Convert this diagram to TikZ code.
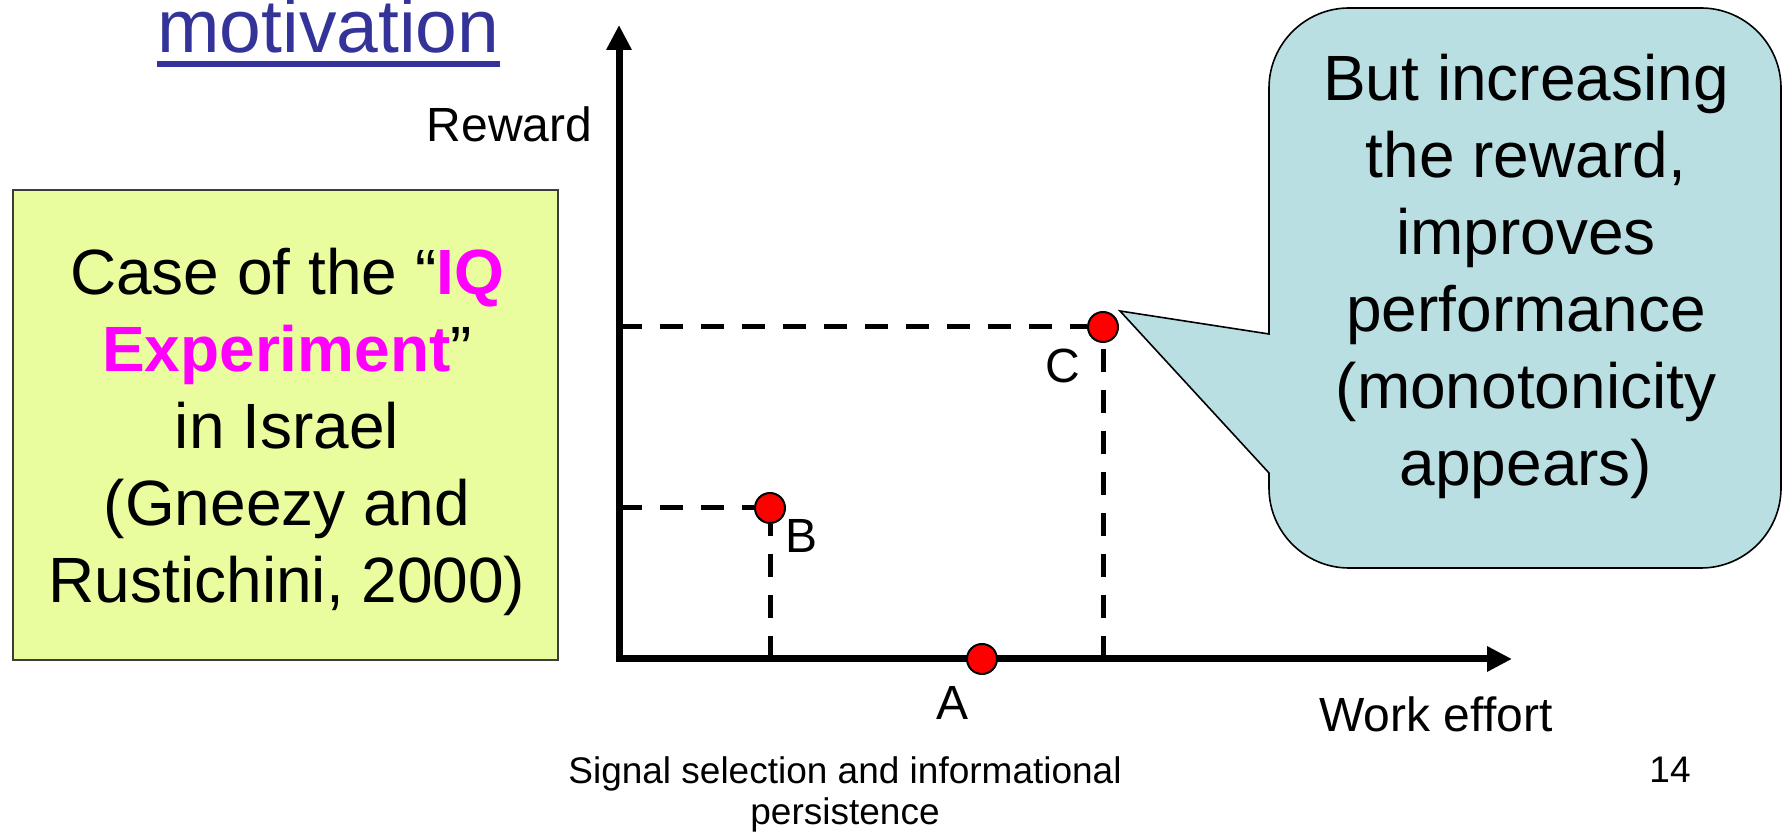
\documentclass[tikz,border=0pt]{standalone}
\usepackage{fontspec}
\setmainfont{Liberation Sans}
\usetikzlibrary{arrows.meta}
\definecolor{titleblue}{RGB}{51,51,153}
\definecolor{iqmag}{RGB}{255,0,255}
\definecolor{boxyellow}{RGB}{234,253,158}
\definecolor{boxedge}{RGB}{60,60,60}
\definecolor{calloutblue}{RGB}{186,223,227}
\definecolor{ptred}{RGB}{255,0,0}
\begin{document}
\begin{tikzpicture}[x=0.5pt,y=-0.5pt,
  titletext/.style={inner sep=0pt, anchor=base west, text=titleblue, font=\fontsize{37.5}{45}\selectfont},
  titleline/.style={draw=titleblue, line width=3pt},
  casebox/.style={draw=boxedge, fill=boxyellow, line width=1pt, inner sep=0pt},
  bigtext/.style={inner sep=0pt, align=center, font=\fontsize{32}{38.5}\selectfont},
  lbl/.style={inner sep=0pt, anchor=base, font=\fontsize{24}{28}\selectfont},
  foot/.style={inner sep=0pt, align=center, font=\fontsize{18.5}{20.5}\selectfont},
  axes/.style={line width=3.5pt, line join=miter,
    {Triangle[length=12.5pt,width=12pt]}-{Triangle[length=12.5pt,width=12pt]}},
  guide/.style={line width=2.5pt, dash pattern=on 11.5pt off 9pt},
  pt/.style={circle, draw=black, fill=ptred, line width=1pt, minimum size=15pt, inner sep=0pt},
  callout/.style={draw=black, fill=calloutblue, line width=0.8pt, line join=miter}]

\useasboundingbox (0,0) rectangle (1785,833);

% title
\node[titletext] (title) at (157,53) {motivation};
\draw[titleline] ([yshift=-5.5pt]title.base west) -- ([yshift=-5.5pt]title.base east);

% yellow case box
\node[casebox, minimum width=272.5pt, minimum height=235pt] (case) at (285.5,425) {};
\node[bigtext] (casetext) at (287,432) {Case of the “\textbf{\color{iqmag}IQ}\\\textbf{\color{iqmag}Experiment}”\\in Israel\\(Gneezy and\\Rustichini, 2000)};

% axes
\coordinate (O) at (619,659);
\coordinate (Ytop) at (619,25);
\coordinate (Xend) at (1512,659);
\draw[axes] (Ytop) -- (O) -- (Xend);

% points
\node[pt] (A) at (982,659) {};
\node[pt] (B) at (770,508) {};
\node[pt] (C) at (1103,327) {};

% guides
\draw[guide] (B -| O) -- (B);
\draw[guide] (B |- O) -- (B);
\draw[guide] (C -| O) -- (C);
\draw[guide] (C |- O) -- (C);

% labels
\node[lbl] (Rlab) at (509.5,142) {Reward};
\node[lbl] (Blab) at (802,553) {B};
\node[lbl] (Alab) at (952,720) {A};
\node[lbl] (Clab) at (1063,383) {C};
\node[lbl] (Wlab) at (1436,732) {Work effort};

% callout
\coordinate (tip) at (1120,311);
\draw[callout] (tip) -- (1269,334) -- (1269,88)
  .. controls (1269,44) and (1305,8) .. (1349,8) -- (1701,8)
  .. controls (1745,8) and (1781,44) .. (1781,88) -- (1781,488)
  .. controls (1781,532) and (1745,568) .. (1701,568) -- (1349,568)
  .. controls (1305,568) and (1269,532) .. (1269,488) -- (1269,473) -- cycle;
\node[bigtext] (callouttext) at (1526,276) {But increasing\\the reward,\\improves\\performance\\(monotonicity\\appears)};

% footer
\node[foot] (footer) at (845,794) {Signal selection and informational\\persistence};
\node[foot, anchor=base] (pg) at (1670,783) {14};
\end{tikzpicture}
\end{document}
